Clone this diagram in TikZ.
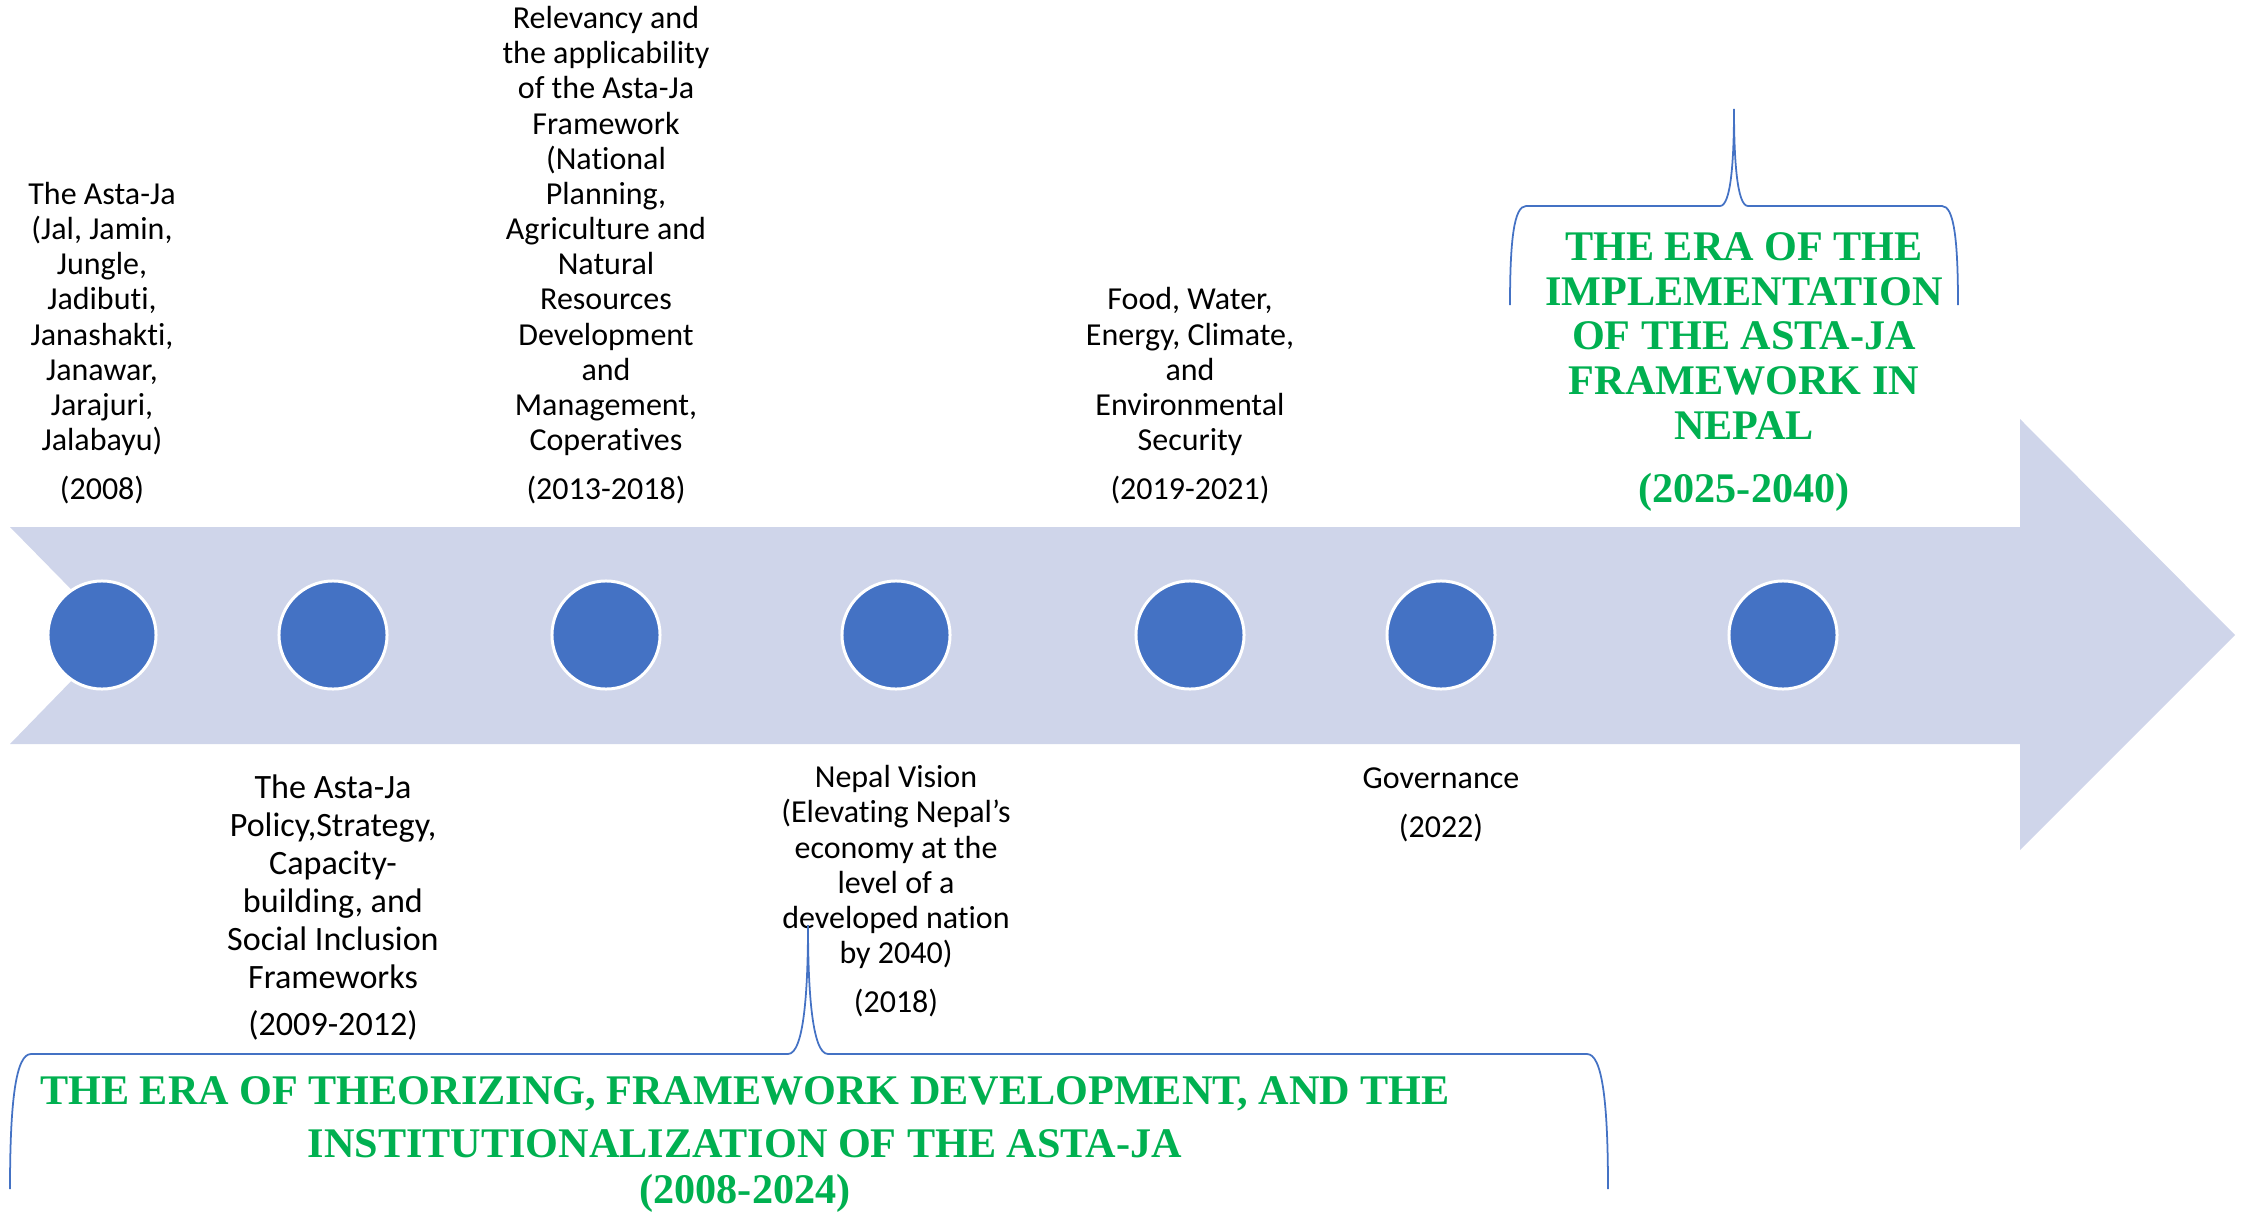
\documentclass[tikz,border=0pt]{standalone}
\usepackage{fontspec}
\setmainfont{Carlito}[Ligatures=NoCommon]
\newfontfamily\erafont{Liberation Serif}
\usepackage{xcolor}
\usepackage{tikz}
\usetikzlibrary{positioning}
\definecolor{bandfill}{HTML}{CFD5EA}
\definecolor{dotblue}{HTML}{4472C4}
\definecolor{eragreen}{HTML}{00B050}

\begin{document}
\begin{tikzpicture}[x=0.01cm, y=-0.01cm,
  dot/.style={circle, fill=dotblue, draw=white, line width=0.85pt, minimum size=1.08cm, inner sep=0pt},
  desc/.style={align=center, inner sep=0pt, font=\fontsize{9.1}{10}\selectfont},
  descbig/.style={desc, font=\fontsize{9.7}{10.8}\selectfont},
  era/.style={align=center, inner sep=0pt, text=eragreen, font=\erafont\bfseries\fontsize{12}{12.66}\selectfont},
  brace/.style={draw=dotblue, line width=0.5pt}]
\useasboundingbox (0,0) rectangle (2251,1212);
\fill[bandfill] (10,527) -- (2020,527) -- (2020,419) -- (2235,635) -- (2020,850) -- (2020,744) -- (10,744) -- (116,635) -- cycle;
\foreach \x/\n in {102/1, 333/2, 606/3, 896/4, 1190/5, 1441/6, 1783/7}
  \node[dot] (c\n) at (\x,635) {};

\node[desc] (y1) at (102,490) {(2008)};
\node[desc, above=0.19cm of y1] (t1) {The Asta-Ja\\(Jal, Jamin,\\Jungle,\\Jadibuti,\\Janashakti,\\Janawar,\\Jarajuri,\\Jalabayu)};
\node[desc] (y3) at (606,490) {(2013-2018)};
\node[desc, above=0.19cm of y3] (t3) {Relevancy and\\the applicability\\of the Asta-Ja\\Framework\\(National\\Planning,\\Agriculture and\\Natural\\Resources\\Development\\and\\Management,\\Coperatives};
\node[desc] (y5) at (1190,490) {(2019-2021)};
\node[desc, above=0.19cm of y5] (t5) {Food, Water,\\Energy, Climate,\\and\\Environmental\\Security};

\node[descbig] (y2) at (333,1025) {(2009-2012)};
\node[descbig, above=0.2cm of y2] (t2) {The Asta-Ja\\Policy,Strategy,\\Capacity-\\building, and\\Social Inclusion\\Frameworks};
\node[desc] (y4) at (896,1003) {(2018)};
\node[desc, above=0.19cm of y4] (t4) {Nepal Vision\\(Elevating Nepal’s\\economy at the\\level of a\\developed nation\\by 2040)};
\node[desc] (y6) at (1441,828) {(2022)};
\node[desc, above=0.24cm of y6] (t6) {Governance};

\node[era] (era2) at (1744,336) {THE ERA OF THE\\IMPLEMENTATION\\OF THE ASTA-JA\\FRAMEWORK IN\\NEPAL};
\node[era, below=0.33cm of era2] (era2y) {(2025-2040)};
\node[era, font=\erafont\bfseries\fontsize{12}{15.1}\selectfont] (era1) at (745,1117) {THE ERA OF THEORIZING, FRAMEWORK DEVELOPMENT, AND THE\\INSTITUTIONALIZATION OF THE ASTA-JA};
\node[era, below=0.15cm of era1] (era1y) {(2008-2024)};

\draw[brace] (1510,305) .. controls (1510,240) and (1514,206) .. (1526,206) -- (1720,206) .. controls (1731,206) and (1734,160) .. (1734,109) .. controls (1734,160) and (1737,206) .. (1748,206) -- (1942,206) .. controls (1954,206) and (1958,240) .. (1958,305);
\draw[brace] (10,1189) .. controls (10,1100) and (16,1054) .. (31,1054) -- (788,1054) .. controls (804,1054) and (808,990) .. (808,925) .. controls (808,990) and (812,1054) .. (828,1054) -- (1587,1054) .. controls (1602,1054) and (1608,1100) .. (1608,1189);
\end{tikzpicture}
\end{document}
